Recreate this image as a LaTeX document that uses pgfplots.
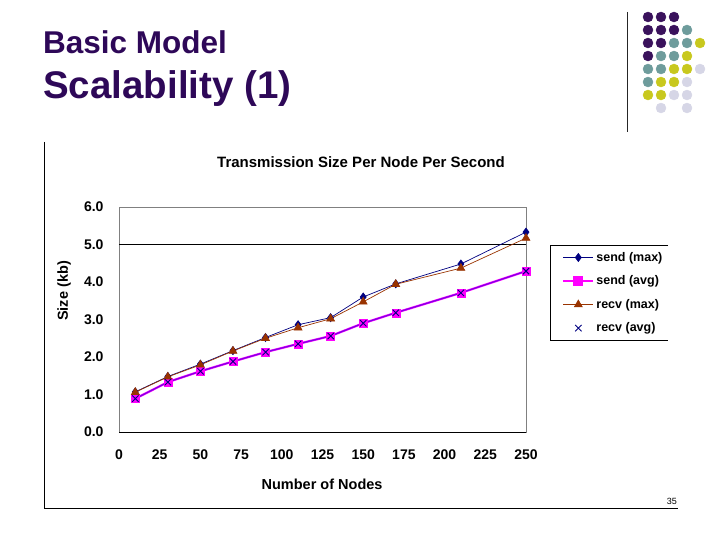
\documentclass[border=0pt]{standalone}
\usepackage{fontspec}
\setmainfont{Liberation Sans}
\usepackage{pgfplots}
\usepackage{pgfplotstable}
\pgfplotsset{compat=1.18}

\definecolor{ttl}{RGB}{46,8,88}
\definecolor{navyblue}{RGB}{0,0,128}
\definecolor{pinkmag}{RGB}{255,0,255}
\definecolor{rust}{RGB}{153,51,0}
\definecolor{violetline}{RGB}{128,0,230}
\definecolor{dotp}{RGB}{58,18,92}
\definecolor{dott}{RGB}{110,156,156}
\definecolor{doty}{RGB}{200,200,30}
\definecolor{dotl}{RGB}{214,214,230}

% x = number of nodes, sizes in kb
\pgfplotstableread{
x    smax savg rmax ravg
10   1.07 0.89 1.06 0.89
30   1.48 1.33 1.47 1.33
50   1.81 1.62 1.79 1.62
70   2.17 1.88 2.16 1.88
90   2.52 2.13 2.50 2.13
110  2.86 2.35 2.78 2.35
130  3.05 2.56 3.02 2.56
150  3.60 2.90 3.47 2.90
170  3.95 3.18 3.94 3.18
210  4.48 3.71 4.37 3.71
250  5.33 4.29 5.17 4.29
}\sizes

\pgfplotstableread{
cx cy c
0 0 p
1 0 p
2 0 p
0 1 p
1 1 p
2 1 p
3 1 t
0 2 p
1 2 p
2 2 t
3 2 t
4 2 y
0 3 p
1 3 t
2 3 t
3 3 y
0 4 t
1 4 t
2 4 y
3 4 y
4 4 l
0 5 t
1 5 y
2 5 y
3 5 l
0 6 y
1 6 y
2 6 l
3 6 l
1 7 l
3 7 l
}\dots

\begin{document}
\begin{tikzpicture}
\path[use as bounding box] (0pt,0pt) rectangle (720pt,-540pt);

% slide header
\node[anchor=base west, inner sep=0pt, text=ttl, font=\bfseries\fontsize{31.5}{31.5}\selectfont] at (43pt,-54pt) {Basic Model};
\node[anchor=base west, inner sep=0pt, text=ttl, font=\bfseries\fontsize{38.5}{38.5}\selectfont] at (43pt,-99pt) {Scalability (1)};
\draw[black!85, line width=0.8pt] (627pt,-12pt) -- (627pt,-132pt);

\begin{axis}[
    at={(648pt,-17pt)}, anchor=north west,
    scale only axis, width=52pt, height=91pt,
    xmin=0, xmax=4, ymin=0, ymax=7, y dir=reverse,
    hide axis, clip=false,
  ]
  \addplot[scatter, only marks, mark size=5pt,
    scatter src=explicit symbolic,
    scatter/classes={p={mark=*,dotp}, t={mark=*,dott}, y={mark=*,doty}, l={mark=*,dotl}}]
    table[x=cx, y=cy, meta=c] {\dots};
\end{axis}

% chart frame
\draw[black, line width=0.8pt] (44pt,-142pt) -- (44pt,-508pt) -- (678pt,-508pt);
\node[anchor=base east, inner sep=0pt, font=\fontsize{9}{9}\selectfont] at (677pt,-504pt) {35};

\node[font=\bfseries\fontsize{15}{15}\selectfont] at (361pt,-162pt) {Transmission Size Per Node Per Second};

\begin{axis}[
    at={(119pt,-432pt)}, anchor=south west,
    scale only axis, width=407pt, height=225pt,
    xmin=0, xmax=250, ymin=0, ymax=6,
    xtick={0,25,...,250}, ytick={0,1,...,6},
    major tick length=0pt,
    axis line style={draw=black!50},
    clip=false,
    /pgf/number format/assume math mode=true,
    tick label style={font=\bfseries\fontsize{14}{14}\selectfont},
    yticklabel style={xshift=-12pt, /pgf/number format/fixed,
      /pgf/number format/fixed zerofill, /pgf/number format/precision=1},
    xticklabel style={yshift=-14pt},
    extra y ticks={5}, extra y tick labels={},
    extra y tick style={grid=major, major grid style={black, line width=0.8pt}},
    xlabel={Number of Nodes},
    xlabel style={at={(axis description cs:0.499,-0.231)}, anchor=center,
      font=\bfseries\fontsize{14.5}{14.5}\selectfont},
    ylabel={Size (kb)},
    ylabel style={at={(axis description cs:-0.135,0.627)}, anchor=center,
      font=\bfseries\fontsize{14.5}{14.5}\selectfont},
    legend image code/.code={
      \draw[mark repeat=2, mark phase=2, #1]
        plot coordinates {(0pt,0pt) (15pt,0pt) (30pt,0pt)};},
    legend style={at={(axis description cs:1.059,0.831)}, anchor=north west,
      draw=none, fill=none, inner xsep=12pt, inner ysep=5pt, row sep=9pt,
      font=\bfseries\fontsize{12.5}{12.5}\selectfont},
    legend cell align=left,
  ]
  \draw[black, line width=0.8pt] (rel axis cs:0,0) -- (rel axis cs:1,0);

  \addplot[forget plot, navyblue, line width=0.7pt, mark=diamond*, mark size=4pt]
    table[x=x, y=smax] {\sizes};
  \addplot[forget plot, pinkmag, line width=2.2pt] table[x=x, y=savg] {\sizes};
  \addplot[forget plot, violetline, line width=1.2pt] table[x=x, y=ravg] {\sizes};
  \addplot[forget plot, only marks, pinkmag, mark=square*, mark size=4pt]
    table[x=x, y=savg] {\sizes};
  \addplot[forget plot, rust, line width=0.7pt, mark=triangle*, mark size=4.5pt]
    table[x=x, y=rmax] {\sizes};
  \addplot[forget plot, only marks, navyblue, mark=x, mark size=4.5pt,
    mark options={line width=0.9pt}] table[x=x, y=ravg] {\sizes};

  \addlegendimage{navyblue, line width=0.7pt, mark=diamond*, mark size=4pt}
  \addlegendentry{send (max)}
  \addlegendimage{pinkmag, line width=2.2pt, mark=square*, mark size=4pt}
  \addlegendentry{send (avg)}
  \addlegendimage{rust, line width=0.7pt, mark=triangle*, mark size=4.5pt}
  \addlegendentry{recv (max)}
  \addlegendimage{only marks, navyblue, mark=x, mark size=4.5pt, mark options={line width=0.9pt}}
  \addlegendentry{recv (avg)}
\end{axis}

% legend frame (open on the right as in the slide)
\draw[black, line width=0.8pt] (668pt,-245pt) -- (550pt,-245pt) -- (550pt,-340pt) -- (668pt,-340pt);
\end{tikzpicture}
\end{document}
